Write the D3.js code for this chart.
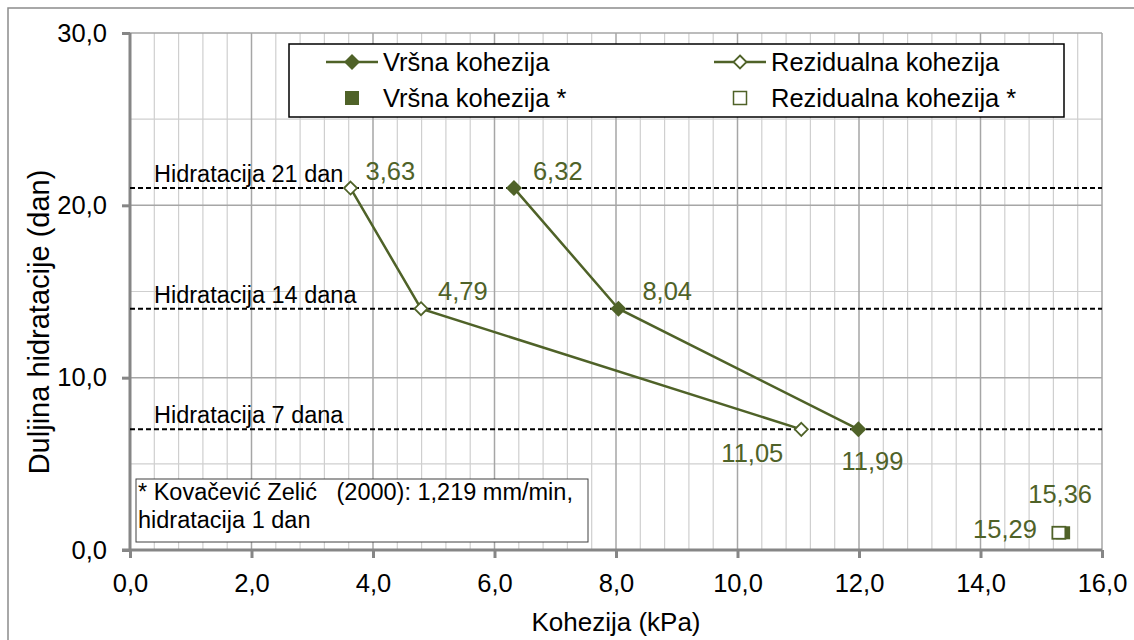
<!DOCTYPE html>
<html>
<head>
<meta charset="utf-8">
<script src="https://cdn.jsdelivr.net/npm/d3@7"></script>
<style>
  body { margin: 0; background: #fff; }
  svg { display: block; font-family: "Liberation Sans", Arial, sans-serif; }
</style>
</head>
<body>
<svg id="chart" width="1134" height="640"></svg>
<script>
// Hydration durations (days) and the reference lines drawn at them
const hydrationDays = [21, 14, 7];
const hydrationLabels = ["Hidratacija 21 dan", "Hidratacija 14 dana", "Hidratacija 7 dana"];

// Cohesion (kPa) per hydration duration
const peakCohesion = [6.32, 8.04, 11.99];
const residualCohesion = [3.63, 4.79, 11.05];

// Reference values, Kovačević Zelić (2000), 1 day hydration
const refDays = [1];
const refPeak = [15.36];
const refResidual = [15.29];

// Axis ticks
const xTickValues = [0, 2, 4, 6, 8, 10, 12, 14, 16];
const yTickValues = [0, 10, 20, 30];

const seriesNames = ["Vršna kohezija", "Rezidualna kohezija", "Vršna kohezija *", "Rezidualna kohezija *"];
const noteLines = ["* Kovačević Zelić   (2000): 1,219 mm/min,", "hidratacija 1 dan"];

// Label placement relative to each point: [dx, dy, anchor]
const peakLabelPos = [[19, -8, "start"], [24, -9, "start"], [14, 41, "middle"]];
const residualLabelPos = [[15, -8, "start"], [17, -9, "start"], [-18, 33, "end"]];
const refPeakLabelPos = [[-3, -30, "middle"]];
const refResidualLabelPos = [[-22, 5, "end"]];

const GREEN = "#4F6228";
const fmt = d3.formatLocale({ decimal: ",", thousands: ".", grouping: [3], currency: ["", ""] });
const f1 = fmt.format(".1f");
const f2 = fmt.format(".2f");

const svg = d3.select("#chart");
const W = 1134, H = 640;
const plot = { left: 130, right: 1102, top: 33, bottom: 550 };

const x = d3.scaleLinear().domain([0, 16]).range([plot.left, plot.right]);
const y = d3.scaleLinear().domain([0, 30]).range([plot.bottom, plot.top]);

// Chart area border
svg.append("rect")
  .attr("x", 8).attr("y", 8).attr("width", W + 20).attr("height", H + 20)
  .attr("fill", "#fff").attr("stroke", "#8c8c8c").attr("stroke-width", 1.5);

// Gridlines
const grid = svg.append("g");
const xMinor = d3.range(0, 16.0001, 0.4).filter(v => Math.abs(v / 2 - Math.round(v / 2)) > 1e-6);
const yMinor = d3.range(5, 30, 10);
grid.selectAll(".vminor").data(xMinor).join("line")
  .attr("x1", d => x(d)).attr("x2", d => x(d))
  .attr("y1", plot.top).attr("y2", plot.bottom)
  .attr("stroke", "#cfcfcf").attr("stroke-width", 1.2);
grid.selectAll(".hminor").data(yMinor).join("line")
  .attr("x1", plot.left).attr("x2", plot.right)
  .attr("y1", d => y(d)).attr("y2", d => y(d))
  .attr("stroke", "#cfcfcf").attr("stroke-width", 1.2);
grid.selectAll(".vmajor").data(xTickValues.slice(1)).join("line")
  .attr("x1", d => x(d)).attr("x2", d => x(d))
  .attr("y1", plot.top).attr("y2", plot.bottom)
  .attr("stroke", "#a6a6a6").attr("stroke-width", 1.5);
grid.selectAll(".hmajor").data(yTickValues.slice(1)).join("line")
  .attr("x1", plot.left).attr("x2", plot.right)
  .attr("y1", d => y(d)).attr("y2", d => y(d))
  .attr("stroke", "#a6a6a6").attr("stroke-width", 1.5);

// Axes
const xAxis = d3.axisBottom(x).tickValues(xTickValues).tickFormat(f1).tickSize(8).tickPadding(16);
const yAxis = d3.axisLeft(y).tickValues(yTickValues).tickFormat(f1).tickSize(8).tickPadding(15);

const gx = svg.append("g").attr("transform", `translate(0,${plot.bottom})`).call(xAxis);
const gy = svg.append("g").attr("transform", `translate(${plot.left},0)`).call(yAxis);
[gx, gy].forEach(g => {
  g.select(".domain").attr("stroke", "#868686").attr("stroke-width", 3);
  g.selectAll(".tick line").attr("stroke", "#868686").attr("stroke-width", 3);
  g.selectAll(".tick text").attr("fill", "#000").attr("font-size", 25.5)
    .attr("font-family", "'Liberation Sans', Arial, sans-serif");
});
gx.select(".domain").attr("d", `M${plot.left - 8},0H${plot.right}`);
gy.select(".domain").attr("d", `M0,${plot.bottom}V${plot.top}`);

// Axis titles
svg.append("text")
  .attr("x", (plot.left + plot.right) / 2).attr("y", 631)
  .attr("text-anchor", "middle").attr("font-size", 26).text("Kohezija (kPa)");
svg.append("text")
  .attr("transform", `translate(49,${322}) rotate(-90)`)
  .attr("text-anchor", "middle").attr("font-size", 29).text("Duljina hidratacije (dan)");

// Hydration reference lines
const refG = svg.append("g");
refG.selectAll("line").data(hydrationDays).join("line")
  .attr("x1", plot.left).attr("x2", plot.right)
  .attr("y1", d => y(d)).attr("y2", d => y(d))
  .attr("stroke", "#000").attr("stroke-width", 2).attr("stroke-dasharray", "5,3");
refG.selectAll("text").data(hydrationDays).join("text")
  .attr("x", 154).attr("y", d => y(d) - 6)
  .attr("font-size", 23.5).text((d, i) => hydrationLabels[i]);

// Markers
const diamond = r => `M0,${-r}L${r},0L0,${r}L${-r},0Z`;

const line = d3.line().x(d => x(d[0])).y(d => y(d[1]));
const peakPts = peakCohesion.map((v, i) => [v, hydrationDays[i]]);
const resPts = residualCohesion.map((v, i) => [v, hydrationDays[i]]);

svg.append("path").datum(resPts).attr("d", line)
  .attr("fill", "none").attr("stroke", GREEN).attr("stroke-width", 2.5);
svg.append("path").datum(peakPts).attr("d", line)
  .attr("fill", "none").attr("stroke", GREEN).attr("stroke-width", 2.5);

svg.selectAll(".peakMark").data(peakPts).join("path")
  .attr("transform", d => `translate(${x(d[0])},${y(d[1])})`)
  .attr("d", diamond(8)).attr("fill", GREEN);
svg.selectAll(".resMark").data(resPts).join("path")
  .attr("transform", d => `translate(${x(d[0])},${y(d[1])})`)
  .attr("d", diamond(6.5)).attr("fill", "#fff").attr("stroke", GREEN).attr("stroke-width", 1.8);

// Reference points (square markers)
const refPeakPts = refPeak.map((v, i) => [v, refDays[i]]);
const refResPts = refResidual.map((v, i) => [v, refDays[i]]);
svg.selectAll(".refPeak").data(refPeakPts).join("rect")
  .attr("x", d => x(d[0]) - 7).attr("y", d => y(d[1]) - 6.5)
  .attr("width", 14).attr("height", 13).attr("fill", GREEN);
svg.selectAll(".refRes").data(refResPts).join("rect")
  .attr("x", d => x(d[0]) - 6.5).attr("y", d => y(d[1]) - 6)
  .attr("width", 13).attr("height", 12)
  .attr("fill", "#fff").attr("stroke", GREEN).attr("stroke-width", 1.8);

// Value labels
function valueLabels(pts, pos) {
  svg.append("g").selectAll("text").data(pts).join("text")
    .attr("x", (d, i) => x(d[0]) + pos[i][0])
    .attr("y", (d, i) => y(d[1]) + pos[i][1])
    .attr("text-anchor", (d, i) => pos[i][2])
    .attr("font-size", 25.5).attr("fill", GREEN)
    .text(d => f2(d[0]));
}
valueLabels(peakPts, peakLabelPos);
valueLabels(resPts, residualLabelPos);
valueLabels(refPeakPts, refPeakLabelPos);
valueLabels(refResPts, refResidualLabelPos);

// Legend
const lg = svg.append("g");
lg.append("rect").attr("x", 289).attr("y", 44).attr("width", 775).attr("height", 73)
  .attr("fill", "#fff").attr("stroke", "#000").attr("stroke-width", 1.5);
const cols = [352, 740], rows = [62, 98];
// row 1: line series
[[0, true], [1, false]].forEach(([k, filled], c) => {
  const cx = cols[c], cy = rows[0];
  lg.append("line").attr("x1", cx - 26).attr("x2", cx + 26).attr("y1", cy).attr("y2", cy)
    .attr("stroke", GREEN).attr("stroke-width", 2.5);
  lg.append("path").attr("transform", `translate(${cx},${cy})`)
    .attr("d", filled ? diamond(8) : diamond(6.5))
    .attr("fill", filled ? GREEN : "#fff").attr("stroke", filled ? "none" : GREEN).attr("stroke-width", 1.8);
  lg.append("text").attr("x", cx + 31).attr("y", cy + 9).attr("font-size", 25.5).text(seriesNames[k]);
});
// row 2: reference points
[[2, true], [3, false]].forEach(([k, filled], c) => {
  const cx = cols[c], cy = rows[1];
  if (filled) {
    lg.append("rect").attr("x", cx - 7).attr("y", cy - 7).attr("width", 14).attr("height", 14).attr("fill", GREEN);
  } else {
    lg.append("rect").attr("x", cx - 6.5).attr("y", cy - 6.5).attr("width", 13).attr("height", 13)
      .attr("fill", "#fff").attr("stroke", GREEN).attr("stroke-width", 1.5);
  }
  lg.append("text").attr("x", cx + 31).attr("y", cy + 9).attr("font-size", 25.5).text(seriesNames[k]);
});

// Source note
const ng = svg.append("g");
ng.append("rect").attr("x", 136).attr("y", 479).attr("width", 452).attr("height", 63)
  .attr("fill", "#fff").attr("stroke", "#404040").attr("stroke-width", 1);
ng.selectAll("text").data(noteLines).join("text")
  .attr("x", 138).attr("y", (d, i) => 500 + i * 28)
  .attr("font-size", 23.5).attr("xml:space", "preserve").style("white-space", "pre")
  .text(d => d);
</script>
</body>
</html>
